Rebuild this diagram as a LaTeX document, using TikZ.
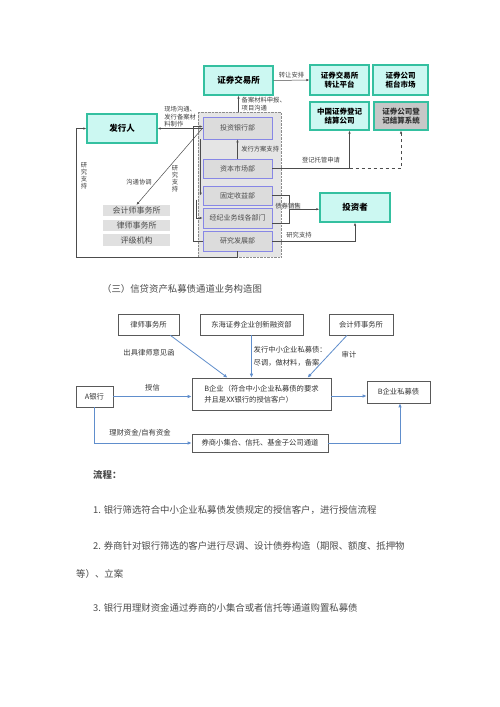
\documentclass[tikz,border=0pt]{standalone}
\usepackage{fontspec}
\setmainfont{Noto Sans CJK SC}
\usepackage{xcolor}
\usetikzlibrary{positioning,calc,arrows.meta}

\definecolor{tealfill}{RGB}{204,248,242}
\definecolor{tealline}{RGB}{52,192,160}
\definecolor{deptline}{RGB}{135,135,230}
\definecolor{deptfill}{RGB}{220,220,220}
\definecolor{flowblue}{RGB}{96,142,204}
\definecolor{bodytext}{RGB}{75,75,75}

\tikzset{
    orgbox/.style={draw=tealline, line width=1.3pt, fill=tealfill, align=center,
        inner sep=1pt, font=\fontsize{7.5}{9.5}\selectfont\bfseries},
    deptbox/.style={draw=deptline, line width=0.7pt, fill=deptfill, inner sep=1pt,
        minimum width=69pt, text=black!70, font=\fontsize{7}{8}\selectfont},
    agency/.style={fill=black!12, minimum width=67pt, inner sep=0pt, text=black!70,
        font=\fontsize{8}{9}\selectfont},
    note/.style={align=left, inner sep=0.5pt, text=black!75, font=\fontsize{6.3}{7.2}\selectfont},
    vnote/.style={align=center, inner sep=0pt, text=black!75, font=\fontsize{6.3}{7}\selectfont},
    tip/.style={-{Latex[length=3pt,width=2.4pt]}, black!70, line width=0.5pt},
    flowbox/.style={draw=black!65, line width=0.6pt, fill=white, inner sep=1pt,
        text=black!80, font=\fontsize{7.3}{10}\selectfont},
    flow/.style={draw=flowblue, line width=0.8pt, -{Latex[length=4pt,width=3.5pt]}},
    flownote/.style={align=left, inner sep=0.5pt, text=black!80, font=\fontsize{7.3}{13}\selectfont},
    body/.style={anchor=west, inner sep=0pt, text=bodytext, font=\fontsize{9.4}{11}\selectfont}
}

\begin{document}
\begin{tikzpicture}[x=1pt, y=-1pt]
    \useasboundingbox[fill=white] (0,0) rectangle (500,707);

    % securities firm block
    \node[draw=black!45, densely dotted, fill=black!10, minimum width=83pt, minimum height=145pt] (broker) at (239.5,184.5) {};
    \node[deptbox, minimum height=22pt] (ib) at (237.5,128) {投资银行部};
    \node[deptbox, minimum height=19pt] (cm) at (237.5,168.5) {资本市场部};
    \node[deptbox, minimum height=19pt] (fi) at (237.5,195.5) {固定收益部};
    \node[deptbox, minimum height=20pt] (brk) at (237.5,218) {经纪业务线各部门};
    \node[deptbox, minimum height=20pt] (rd) at (237.5,241) {研究发展部};

    \node[orgbox, minimum width=69pt, minimum height=29pt] (sse) at (238.5,80.5) {\fontsize{8.5}{10}\selectfont 证券交易所};
    \node[orgbox, minimum width=70pt, minimum height=29pt] (issuer) at (122,128.5) {\fontsize{8.5}{10}\selectfont 发行人};
    \node[orgbox, minimum width=59pt, minimum height=30pt] (platform) at (339.5,80) {证券交易所\\转让平台};
    \node[orgbox, minimum width=55pt, minimum height=30pt] (otc) at (400.5,80) {证券公司\\柜台市场};
    \node[orgbox, minimum width=59pt, minimum height=28pt] (csdc) at (339.5,116) {中国证券登记\\结算公司};
    \node[orgbox, fill=black!22, text=black!80, minimum width=54pt, minimum height=28pt] (brokerreg) at (401,116) {证券公司登\\记结算系统};
    \node[orgbox, minimum width=70pt, minimum height=29pt] (investor) at (355,207.5) {\fontsize{8.5}{10}\selectfont 投资者};

    \node[agency, minimum height=11pt] (acc) at (136.5,210.5) {会计师事务所};
    \node[agency, minimum height=11pt] (law) at (136.5,225.5) {律师事务所};
    \node[agency, minimum height=12pt] (rating) at (136.5,240) {评级机构};

    % connectors, top chart
    \draw[tip] (sse.east) -- (platform.west) node[midway, above=1pt, note] {转让安排};
    \draw[tip] (sse.south |- broker.north) -- (sse.south);
    \node[note, anchor=west] at (241,104) {备案材料申报、\\项目沟通};
    \draw[tip, {Latex[length=3pt,width=2.4pt]}-] (issuer.east) -- (issuer.east -| ib.west)
        node[midway, above=1pt, note] {现场沟通、\\发行备案材\\料制作};
    \draw[tip, {Latex[length=3pt,width=2.4pt]}-] (acc.north) -- (ib.west);
    \node[note] at (139,182) {沟通协调};
    \node[vnote] at (175,179) {研\\究\\支\\持};
    \draw[tip] (rd.south) -- ++(0,6) -| ([xshift=-10pt]issuer.west) -- (issuer.west);
    \node[vnote] at (84,176) {研\\究\\支\\持};
    \draw[tip] (rd.west) -- ++(-9,0) |- ([yshift=1.5pt]ib.west);
    \draw[tip] ([xshift=-2pt]ib.south west) -- ([xshift=-2pt]fi.west);
    \draw[tip] ([shift={(-6,4)}]fi.west) |- (brk.west);
    \draw[tip] (cm.north) -- (ib.south) node[midway, right=3pt, note] {发行方案支持};
    \draw[tip] (cm.east) -| ([xshift=10pt]csdc.south);
    \node[note] at (321,160) {登记托管申请};
    \draw[tip, dashed] ([xshift=10pt]csdc.south |- cm.east) -| (brokerreg.south);
    \draw[black!70] (fi.east) -- ++(17,0) |- ([yshift=-5pt]brk.east);
    \coordinate (sales) at ($(fi.east)!0.5!([yshift=-5pt]brk.east) + (17,0)$);
    \draw[tip, line width=1.2pt] (sales) -- (sales -| investor.west);
    \node[note, fill=black!10, fill opacity=0.6, text opacity=1] at (288,206) {债券销售};
    \draw[tip] (rd.east) -| (investor.south);
    \node[note] at (299,235) {研究支持};

    % second chart
    \node[text=bodytext, font=\fontsize{9.4}{11}\selectfont] (title) at (182,289) {（三）信贷资产私募债通道业务构造图};

    \node[flowbox, minimum width=61pt, minimum height=21pt] (lawfirm) at (148.5,324.5) {律师事务所};
    \node[flowbox, minimum width=103pt, minimum height=21pt] (donghai) at (251.5,324.5) {东海证券企业创新融资部};
    \node[flowbox, minimum width=64pt, minimum height=21pt] (auditor) at (361,324.5) {会计师事务所};
    \node[flowbox, minimum width=37pt, minimum height=21pt] (bankA) at (94.5,396.5) {A银行};
    \node[flowbox, minimum width=139pt, minimum height=32pt, align=left, font=\fontsize{7.3}{11}\selectfont] (firmB) at (261.5,394)
        {B企业（符合中小企业私募债的要求\\并且是XX银行的授信客户）};
    \node[flowbox, minimum width=63pt, minimum height=22pt] (bond) at (398.5,392) {B企业私募债};
    \node[flowbox, minimum width=136pt, minimum height=18pt] (channel) at (260,443) {券商小集合、信托、基金子公司通道};

    \draw[flow] ([xshift=-9pt]lawfirm.south east) -- ([xshift=-34pt]firmB.north);
    \node[flownote] at (149,353) {出具律师意见函};
    \draw[flow] (donghai.south) -- (donghai.south |- firmB.north);
    \node[flownote, anchor=west] at (253,356) {发行中小企业私募债：\\尽调，做材料，备案};
    \draw[flow] ([xshift=-14pt]auditor.south) -- ([xshift=46pt]firmB.north);
    \node[flownote] at (349,355) {审计};
    \draw[flow] (bankA.east) -- (bankA.east -| firmB.west) node[midway, above=4pt, flownote] {授信};
    \draw[flow] ([yshift=-2pt]firmB.east) -- ([yshift=-2pt]firmB.east -| bond.west);
    \draw[flow] (bankA.south) |- (channel.west);
    \node[flownote] at (140,433) {理财资金/自有资金};
    \draw[flow] (channel.east) -| ([xshift=1.5pt]bond.south);

    % process text
    \node[body, font=\fontsize{9.4}{11}\selectfont\bfseries] (steps) at (93,475) {流程：};
    \node[body] (stepa) at (93,510) {1. 银行筛选符合中小企业私募债发债规定的授信客户，进行授信流程};
    \node[body] (stepb) at (93,546) {2. 券商针对银行筛选的客户进行尽调、设计债券构造（期限、额度、抵押物};
    \node[body] (stepbb) at (76,574) {等）、立案};
    \node[body] (stepc) at (93,608) {3. 银行用理财资金通过券商的小集合或者信托等通道购置私募债};
\end{tikzpicture}
\end{document}
